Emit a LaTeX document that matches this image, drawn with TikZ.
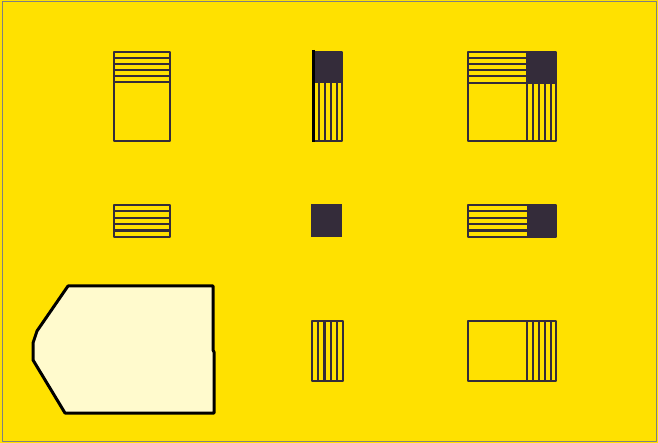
\documentclass[tikz,border=0pt]{standalone}
\definecolor{bgyellow}{RGB}{255,225,0}
\definecolor{paleyellow}{RGB}{255,250,205}
\definecolor{inkdark}{RGB}{52,44,58}
\begin{document}
\begin{tikzpicture}[x=1pt, y=-1pt, line join=round]
        \useasboundingbox (0,0) rectangle (658,443);
        % Background and frame
        \fill[bgyellow] (0,0) rectangle (658,443);
        \draw[gray, line width=1pt] (2,2) rectangle (656,441);

        \tikzset{box/.style={draw=inkdark, line width=2.2pt}, stripe/.style={draw=inkdark, line width=2.2pt}}

        % Top row, left: stripes over an empty box
        \draw[box] (114,52) rectangle (170,141);
        \draw[stripe] (114,58)--(170,58) (114,64)--(170,64) (114,70)--(170,70) (114,76)--(170,76) (114,82)--(170,82);

        % Top row, middle: dark block over vertical stripes
        \fill[inkdark] (313,52) rectangle (342,83);
        \draw[box] (313,52) rectangle (342,141);
        \draw[stripe] (319,83)--(319,141) (325,83)--(325,141) (331,83)--(331,141) (337,83)--(337,141);
        \draw[black, line width=3pt] (313,50)--(313,142);

        % Top row, right: both stripes and dark corner
        \fill[inkdark] (527,52) rectangle (556,83);
        \draw[box] (468,52) rectangle (556,141);
        \draw[stripe] (468,58)--(527,58) (468,64)--(527,64) (468,70)--(527,70) (468,76)--(527,76);
        \draw[stripe] (468,83)--(556,83) (527,52)--(527,141);
        \draw[stripe] (533,83)--(533,141) (539,83)--(539,141) (545,83)--(545,141) (551,83)--(551,141);

        % Middle row, left: horizontal stripes
        \draw[box] (114,205) rectangle (170,237);
        \draw[stripe] (114,211.4)--(170,211.4) (114,217.8)--(170,217.8) (114,224.2)--(170,224.2) (114,230.6)--(170,230.6);

        % Middle row, middle: dark square
        \fill[inkdark] (311,204) rectangle (342,237);

        % Middle row, right: horizontal stripes and dark end
        \fill[inkdark] (527,205) rectangle (556,237);
        \draw[box] (468,205) rectangle (556,237);
        \draw[stripe] (468,211.4)--(527,211.4) (468,217.8)--(527,217.8) (468,224.2)--(527,224.2) (468,230.6)--(527,230.6);

        % Pale card
        \draw[fill=paleyellow, draw=black, line width=3pt] (68,286)--(213,286)--(213,350)--(214,352)--(214,413)--(65,413)--(33,360)--(33,343)--(37,331)--cycle;

        % Bottom row, middle: vertical stripes
        \draw[box] (312,321) rectangle (343,381);
        \draw[stripe] (318.2,321)--(318.2,381) (324.4,321)--(324.4,381) (330.6,321)--(330.6,381) (336.8,321)--(336.8,381);

        % Bottom row, right: empty box and vertical stripes
        \draw[box] (468,321) rectangle (556,381);
        \draw[stripe] (527,321)--(527,381) (533,321)--(533,381) (539,321)--(539,381) (545,321)--(545,381) (551,321)--(551,381);
\end{tikzpicture}
\end{document}
